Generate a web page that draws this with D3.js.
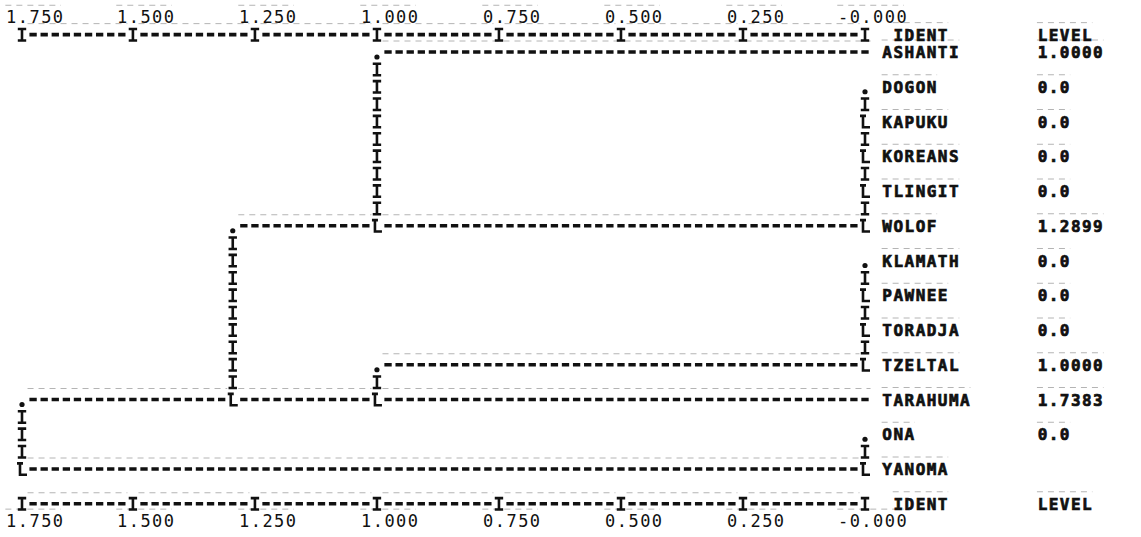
<!DOCTYPE html>
<html>
<head>
<meta charset="utf-8">
<script src="https://cdn.jsdelivr.net/npm/d3@7"></script>
<style>
  body { margin: 0; background: #fff; }
  svg { display: block; }
</style>
</head>
<body>
<div id="chart"></div>
<script>
// leaves in print order, and the join level between each leaf and the next one
const leaves = ["ASHANTI", "DOGON", "KAPUKU", "KOREANS", "TLINGIT", "WOLOF",
  "KLAMATH", "PAWNEE", "TORADJA", "TZELTAL", "TARAHUMA", "ONA", "YANOMA"]
const levels = [1.0, 0.0, 0.0, 0.0, 0.0, 1.2899, 0.0, 0.0, 0.0, 1.0, 1.7383, 0.0]
const levelLabels = ["1.0000", "0.0", "0.0", "0.0", "0.0", "1.2899",
  "0.0", "0.0", "0.0", "1.0000", "1.7383", "0.0", ""]
const tickValues = [1.75, 1.5, 1.25, 1.0, 0.75, 0.5, 0.25, 0]
const tickLabels = ["1.750", "1.500", "1.250", "1.000", "0.750", "0.500", "0.250", "-0.000"]

const width = 1141
const height = 537
const ink = "#111"
const ghost = "#b4b4b4"

// line printer grid: 76 columns span the level axis, one print line per half row
const nCols = 76
const colScale = d3.scaleLinear().domain([tickValues[0], 0]).range([0, nCols])
const colX = d3.scaleLinear().domain([0, nCols]).range([22, 865])
const lineY = d3.scaleLinear().domain([2, 26]).range([52, 469])
const cw = colX(1) - colX(0)
const colOf = v => Math.floor(colScale(v) + 1e-6)
const leafLine = i => 2 + 2 * i

const nameCol = 78
const levelCol = 92
const topAxis = { labels: 0, ticks: 1 }
const bottomAxis = { labels: 29, ticks: 28 }

const svg = d3.select("#chart").append("svg")
  .attr("width", width)
  .attr("height", height)
  .attr("viewBox", `0 0 ${width} ${height}`)

svg.append("rect").attr("width", width).attr("height", height).attr("fill", "#fff")

const ghostLayer = svg.append("g")
const g = svg.append("g")

// build the tree from the sequential levels (ties at the max level give a multi-way join)
function build(a, b) {
  if (a === b) return { leaf: a, col: nCols + 1, rep: a }
  const m = d3.max(levels.slice(a, b))
  const parts = []
  let start = a
  for (let k = a; k < b; k++) {
    if (levels[k] === m) { parts.push([start, k]); start = k + 1 }
  }
  parts.push([start, b])
  return { col: colOf(m), children: parts.map(p => build(p[0], p[1])), rep: b }
}
const root = build(0, leaves.length - 1)

const glyphs = []   // {line, col, ch}
const dashes = []   // {line, c1, c2}

function walk(node) {
  if (!node.children) return
  const kids = node.children
  const first = leafLine(kids[0].rep)
  const last = leafLine(kids[kids.length - 1].rep)
  const joinLines = new Set(kids.slice(1, -1).map(k => leafLine(k.rep)))
  for (let ln = first; ln <= last; ln++) {
    let ch = "I"
    if (ln === first) ch = "."
    else if (ln === last || joinLines.has(ln)) ch = "L"
    glyphs.push({ line: ln, col: node.col, ch })
  }
  kids.forEach(k => {
    if (k.col - 1 >= node.col + 1) dashes.push({ line: leafLine(k.rep), c1: node.col + 1, c2: k.col - 1 })
    walk(k)
  })
}
walk(root)

// axis rows: I at each tick column, dashes between
;[topAxis, bottomAxis].forEach(ax => {
  const cols = tickValues.map(colOf)
  cols.forEach((c, i) => {
    glyphs.push({ line: ax.ticks, col: c, ch: "I" })
    if (i > 0) dashes.push({ line: ax.ticks, c1: cols[i - 1] + 1, c2: c - 1 })
  })
})

// faint offset copy of the dashes (print-through on the original sheet)
ghostLayer.selectAll("line.ghost")
  .data(dashes)
  .join("line")
  .attr("x1", d => colX(d.c1) - cw * 0.5)
  .attr("x2", d => colX(d.c2) + cw * 0.5)
  .attr("y1", d => lineY(d.line) - 11)
  .attr("y2", d => lineY(d.line) - 11)
  .attr("stroke", ghost)
  .attr("stroke-width", 1)
  .attr("stroke-dasharray", "6 5")

g.selectAll("line.dash")
  .data(dashes)
  .join("line")
  .attr("class", "dash")
  .attr("x1", d => colX(d.c1) - cw * 0.33)
  .attr("x2", d => colX(d.c2) + cw * 0.33)
  .attr("y1", d => lineY(d.line))
  .attr("y2", d => lineY(d.line))
  .attr("stroke", ink)
  .attr("stroke-width", 3.6)
  .attr("stroke-dasharray", `${cw * 0.66} ${cw * 0.34}`)

// printer glyphs for the tree: I (stem), L (corner), . (top of a join)
function glyphPath(d) {
  const cx = colX(d.col), cy = lineY(d.line)
  const top = cy - 5.6, bot = cy + 5.8
  if (d.ch === "I") return `M${cx - 4.2},${top}H${cx + 4.2}M${cx},${top}V${bot}M${cx - 4.2},${bot}H${cx + 4.2}`
  if (d.ch === "L") return `M${cx - 5},${top}H${cx + 1}M${cx - 2},${top}V${bot}H${cx + 5}`
  return ""
}

g.selectAll("path.glyph")
  .data(glyphs.filter(d => d.ch !== "."))
  .join("path")
  .attr("class", "glyph")
  .attr("d", glyphPath)
  .attr("fill", "none")
  .attr("stroke", ink)
  .attr("stroke-width", 2.6)

g.selectAll("circle.glyph")
  .data(glyphs.filter(d => d.ch === "."))
  .join("circle")
  .attr("class", "glyph")
  .attr("cx", d => colX(d.col))
  .attr("cy", d => lineY(d.line) + 5)
  .attr("r", 2.6)
  .attr("fill", ink)

// text on the print grid: fixed pitch of one column
const fontSize = 16
const spacing = cw - fontSize * 0.602
function printText(sel, str, col, line, opts = {}) {
  const t = sel.append("text")
    .attr("x", colX(col) - cw / 2 + spacing / 2)
    .attr("y", lineY(line) + 6)
    .attr("font-family", "DejaVu Sans Mono, monospace")
    .attr("font-weight", opts.weight || "bold")
    .attr("font-size", opts.size || fontSize)
    .attr("letter-spacing", spacing)
    .attr("fill", ink)
    .attr("stroke", opts.weight === "normal" ? "none" : ink)
    .attr("stroke-width", 0.7)
    .text(str)
  if (opts.ghost && str.trim().length) {
    const lead = str.length - str.trimStart().length
    ghostLayer.append("line")
      .attr("x1", colX(col + lead) - cw / 2)
      .attr("x2", colX(col + str.length - 1) + cw / 2)
      .attr("y1", lineY(line) - 12)
      .attr("y2", lineY(line) - 12)
      .attr("stroke", ghost)
      .attr("stroke-width", 1)
      .attr("stroke-dasharray", "6 5")
  }
  return t
}

// axis labels, decimal point on the tick column
;[topAxis, bottomAxis].forEach(ax => {
  tickLabels.forEach((lab, i) => {
    const c = colOf(tickValues[i]) - lab.indexOf(".")
    printText(g, lab, c, ax.labels, { weight: "normal", size: 17, ghost: true })
  })
})

// headers
printText(g, "IDENT", nameCol + 1, topAxis.ticks, { ghost: true })
printText(g, "LEVEL", levelCol, topAxis.ticks, { ghost: true })
printText(g, "IDENT", nameCol + 1, bottomAxis.ticks, { ghost: true })
printText(g, "LEVEL", levelCol, bottomAxis.ticks, { ghost: true })

// identifiers and levels
leaves.forEach((name, i) => {
  printText(g, name, nameCol, leafLine(i), { ghost: true })
  printText(g, levelLabels[i], levelCol, leafLine(i), { ghost: true })
})
</script>
</body>
</html>
